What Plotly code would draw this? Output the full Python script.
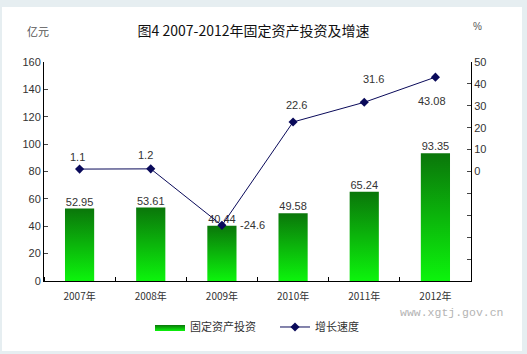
import plotly.graph_objects as go

years = ["2007年", "2008年", "2009年", "2010年", "2011年", "2012年"]
investment = [52.95, 53.61, 40.44, 49.58, 65.24, 93.35]
growth = [1.1, 1.2, -24.6, 22.6, 31.6, 43.08]
growth_labels = ["1.1", "1.2", "-24.6", "22.6", "31.6", "43.08"]
# label offsets (pixels) for the growth labels
growth_dx = [-2, -5, 31, 3, 9, -3]
growth_dy = [12, 14, 0, 17, 23, -24]

FONT = "Liberation Sans, Arial, Noto Sans CJK SC"
CJK = "Noto Sans CJK SC, Liberation Sans"
W = 0.41
xs = list(range(len(years)))

fig = go.Figure()

for i, v in enumerate(investment):
    fig.add_trace(go.Scatter(
        x=[i - W / 2, i + W / 2, i + W / 2, i - W / 2, i - W / 2],
        y=[0, 0, v, v, 0],
        mode="lines", line=dict(width=0),
        fill="toself",
        fillgradient=dict(type="vertical",
                          colorscale=[[0, "#0cf40c"], [1, "#0a760a"]]),
        name="固定资产投资",
        legendgroup="inv", showlegend=(i == 0),
        hoverinfo="skip",
    ))

fig.add_trace(go.Scatter(
    x=xs, y=investment, mode="text",
    text=[f"{v:.2f}" for v in investment],
    textposition="top center",
    textfont=dict(family=FONT, size=11, color="#333333"),
    showlegend=False, hoverinfo="skip",
))

fig.add_trace(go.Scatter(
    x=xs, y=growth, yaxis="y2", mode="lines+markers",
    line=dict(color="#0a0a5a", width=1),
    marker=dict(symbol="diamond", size=7, color="#0a0a5a"),
    name="增长速度",
))

annotations = []
for i, (g, t) in enumerate(zip(growth, growth_labels)):
    annotations.append(dict(
        x=i, y=g, xref="x", yref="y2", text=t, showarrow=False,
        xanchor="center", yanchor="middle",
        xshift=growth_dx[i], yshift=growth_dy[i],
        font=dict(family=FONT, size=11, color="#333333")))

right_vals = list(range(-50, 51, 10))
right_text = [str(v) if v >= 0 else "" for v in right_vals]

annotations += [
    dict(text="亿元", xref="paper", yref="paper", x=(38 - 44) / 427, y=(281 - 31) / 219,
         xanchor="center", yanchor="middle",
         showarrow=False, font=dict(family=CJK, size=11, color="#555555")),
    dict(text="%", xref="paper", yref="paper", x=(477 - 44) / 427, y=(281 - 27) / 219,
         xanchor="center", yanchor="middle",
         showarrow=False, font=dict(size=10, color="#555555")),
    dict(text="www.xgtj.gov.cn", xref="paper", yref="paper", x=(452 - 44) / 427,
         y=(281 - 312) / 219, showarrow=False, xanchor="center", yanchor="middle",
         font=dict(family="Liberation Mono, DejaVu Sans Mono", size=11.5, color="#b4b4b4")),
]

fig.update_layout(
    width=527, height=354,
    margin=dict(l=44, r=56, t=62, b=73),
    paper_bgcolor="#e6eef1",
    plot_bgcolor="white",
    font=dict(family=FONT, size=11, color="#333333"),
    title=dict(text="图4 2007-2012年固定资产投资及增速", x=253.5 / 527, xanchor="center",
               y=1 - 31 / 354, yanchor="middle",
               font=dict(family=CJK, size=14, color="#111111")),
    xaxis=dict(range=[-0.5, 5.5], tickvals=xs, ticktext=years, ticks="",
               showline=True, linecolor="black", linewidth=1, zeroline=False,
               showgrid=False, ticklabelstandoff=6,
               tickfont=dict(family=CJK, size=10, color="#333333"),
               minor=dict(tickvals=[i + 0.5 for i in range(-1, 6)], ticks="inside",
                          ticklen=4, tickcolor="black")),
    yaxis=dict(range=[0, 160], dtick=20, ticks="inside", ticklen=4,
               showline=True, linecolor="black", linewidth=1, showgrid=False,
               zeroline=False, tickfont=dict(size=11, color="#333333")),
    yaxis2=dict(range=[-50, 50], overlaying="y", side="right",
                tickvals=right_vals, ticktext=right_text, ticks="inside", ticklen=4,
                showline=True, linecolor="black", linewidth=1, showgrid=False,
                zeroline=False, tickfont=dict(size=11, color="#333333")),
    legend=dict(orientation="h", x=(150 - 44) / 427, xanchor="left", y=-0.21, yanchor="middle",
                font=dict(family=CJK, size=11, color="#333333"), bgcolor="rgba(0,0,0,0)",
                itemwidth=30, entrywidth=80, entrywidthmode="pixels", tracegroupgap=0),
    shapes=[dict(type="rect", xref="paper", yref="paper", layer="below",
                 x0=(2 - 44) / 427, x1=(522 - 44) / 427,
                 y0=(281 - 351) / 219, y1=(281 - 7) / 219,
                 fillcolor="white", line=dict(width=0))],
    annotations=annotations,
)

fig.write_html("out.html")
